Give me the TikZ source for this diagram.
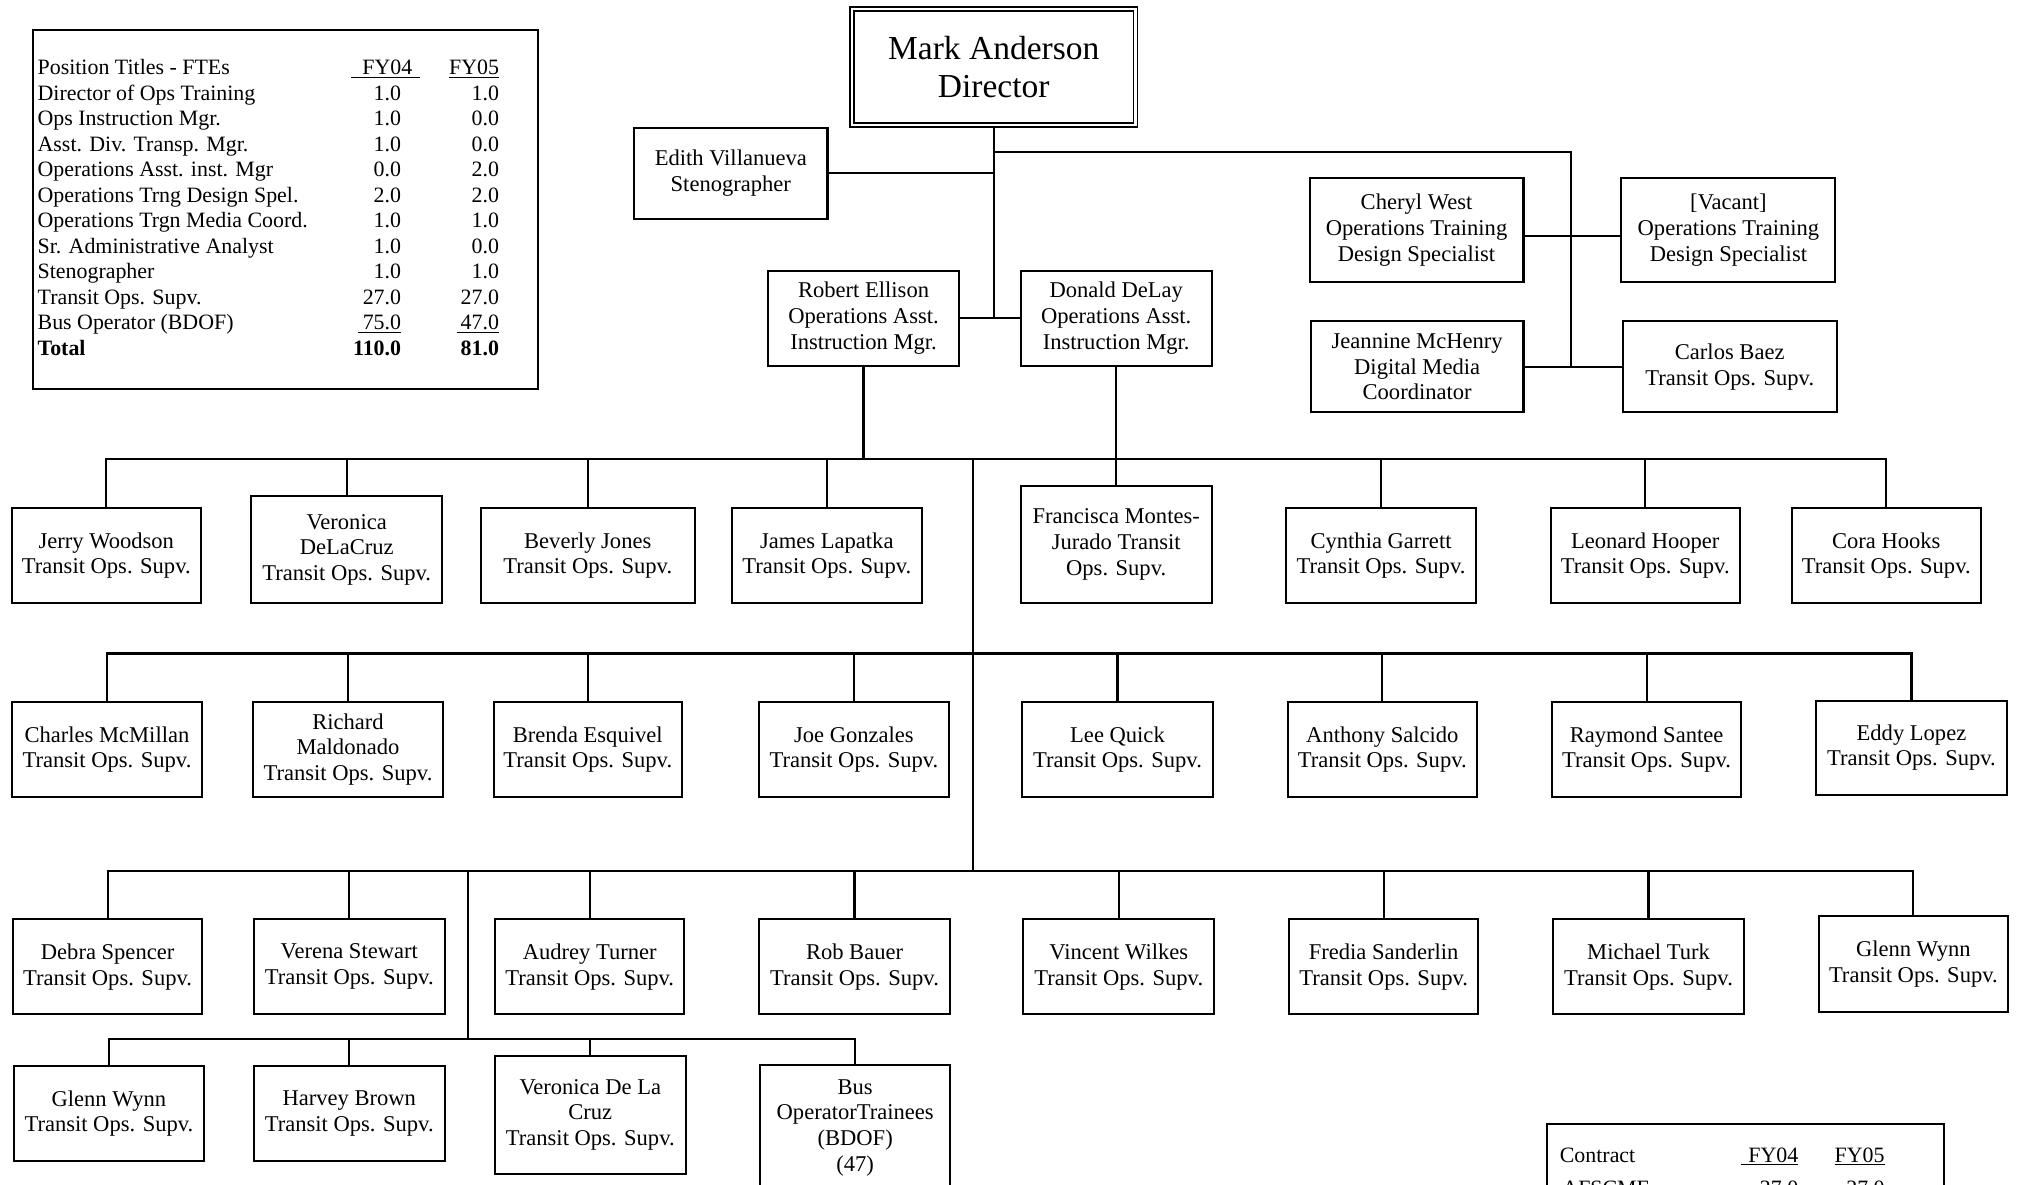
\documentclass[tikz,border=0pt]{standalone}
\usepackage{fontspec}
\setmainfont{Liberation Serif}
\usepackage{array}
\begin{document}
\begin{tikzpicture}[x=1pt,y=-1pt,
  box/.style={draw, line width=1.6pt, align=center, inner sep=0pt, font=\fontsize{17.5}{20}\selectfont},
  conn/.style={line width=1.7pt},
  txt/.style={inner sep=0pt, font=\fontsize{17}{19.8}\selectfont}]
\useasboundingbox (0,0) rectangle (1568,919);
\fill[white] (0,0) rectangle (1568,919);

% ---------- FTE table ----------
\node[draw, line width=1.6pt, minimum width=392, minimum height=278, inner sep=0pt] (fte) at (221.5,162.5) {};
\node[txt, anchor=base west] (ftetab) at (29,58) {\begin{tabular}[t]{@{}p{232pt}@{}>{\raggedleft\arraybackslash}p{50pt}@{}>{\raggedleft\arraybackslash}p{76pt}@{}}
Position Titles - FTEs & \multicolumn{1}{@{}l@{}}{\hspace{11pt}\rlap{\underline{\hspace{9pt}FY04\hspace{6pt}}}} & \underline{FY05}\\
Director of Ops Training & 1.0 & 1.0\\
Ops Instruction Mgr. & 1.0 & 0.0\\
Asst. Div. Transp. Mgr. & 1.0 & 0.0\\
Operations Asst. inst. Mgr & 0.0 & 2.0\\
Operations Trng Design Spel. & 2.0 & 2.0\\
Operations Trgn Media Coord. & 1.0 & 1.0\\
Sr. Administrative Analyst & 1.0 & 0.0\\
Stenographer & 1.0 & 1.0\\
Transit Ops. Supv. & 27.0 & 27.0\\
Bus Operator (BDOF) & \underline{\hspace{4pt}75.0} & \underline{\hspace{3pt}47.0}\\
\textbf{Total} & \textbf{110.0} & \textbf{81.0}
\end{tabular}};

% ---------- Contract table (cut off at bottom, as in the reference) ----------
\node[draw, line width=1.6pt, minimum width=308, minimum height=90, inner sep=0pt] (contract) at (1354,917) {};
\node[txt, anchor=base west] (ctab) at (1210,902) {\begin{tabular}[t]{@{}p{135pt}@{}>{\raggedleft\arraybackslash}p{50pt}@{}>{\raggedleft\arraybackslash}p{67pt}@{}}
Contract & \underline{\hspace{6pt}FY04} & \underline{FY05}\\[6pt]
\hspace{2pt}AFSCME & 27.0 & 27.0
\end{tabular}};

% ---------- top ----------
\node[box, double, double distance=1.8pt, line width=1.2pt, minimum width=220, minimum height=90, font=\fontsize{26}{30}\selectfont] (dir) at (771,52) {Mark Anderson\\Director};
\node[box, minimum width=150, minimum height=71] (edith) at (567,134.5) {Edith Villanueva\\Stenographer};
\node[box, minimum width=148, minimum height=74] (robert) at (670,247) {Robert Ellison\\Operations Asst.\\Instruction Mgr.};
\node[box, minimum width=148, minimum height=74] (donald) at (866,247) {Donald DeLay\\Operations Asst.\\Instruction Mgr.};
\node[box, minimum width=166, minimum height=81] (cheryl) at (1099,178.5) {Cheryl West\\Operations Training\\Design Specialist};
\node[box, minimum width=166, minimum height=81] (vacant) at (1341,178.5) {[Vacant]\\Operations Training\\Design Specialist};
\node[box, minimum width=165, minimum height=71] (jeannine) at (1099.5,284.5) {Jeannine McHenry\\Digital Media\\Coordinator};
\node[box, minimum width=166, minimum height=71] (carlos) at (1342,284.5) {Carlos Baez\\Transit Ops. Supv.};

% ---------- row 1 ----------
\node[box, minimum width=147, minimum height=74] (jerry) at (82.5,431) {Jerry Woodson\\Transit Ops. Supv.};
\node[box, minimum width=148, minimum height=83] (veron1) at (269,426.5) {Veronica\\DeLaCruz\\Transit Ops. Supv.};
\node[box, minimum width=166, minimum height=74] (beverly) at (456,431) {Beverly Jones\\Transit Ops. Supv.};
\node[box, minimum width=147, minimum height=74] (james) at (641.5,431) {James Lapatka\\Transit Ops. Supv.};
\node[box, minimum width=148, minimum height=91] (fran) at (866,422.5) {Francisca Montes-\\Jurado Transit\\Ops. Supv.};
\node[box, minimum width=147, minimum height=74] (cynthia) at (1071.5,431) {Cynthia Garrett\\Transit Ops. Supv.};
\node[box, minimum width=147, minimum height=74] (leonard) at (1276.5,431) {Leonard Hooper\\Transit Ops. Supv.};
\node[box, minimum width=147, minimum height=74] (cora) at (1463.5,431) {Cora Hooks\\Transit Ops. Supv.};

% ---------- row 2 ----------
\node[box, minimum width=148, minimum height=73] (charles) at (83,581.5) {Charles McMillan\\Transit Ops. Supv.};
\node[box, minimum width=148, minimum height=73] (richard) at (270,581.5) {Richard\\Maldonado\\Transit Ops. Supv.};
\node[box, minimum width=146, minimum height=73] (brenda) at (456,581.5) {Brenda Esquivel\\Transit Ops. Supv.};
\node[box, minimum width=147, minimum height=73] (joe) at (662.5,581.5) {Joe Gonzales\\Transit Ops. Supv.};
\node[box, minimum width=148, minimum height=73] (lee) at (867,581.5) {Lee Quick\\Transit Ops. Supv.};
\node[box, minimum width=147, minimum height=73] (anthony) at (1072.5,581.5) {Anthony Salcido\\Transit Ops. Supv.};
\node[box, minimum width=147, minimum height=73] (raymond) at (1277.5,581.5) {Raymond Santee\\Transit Ops. Supv.};
\node[box, minimum width=148, minimum height=73] (eddy) at (1483,580) {Eddy Lopez\\Transit Ops. Supv.};

% ---------- row 3 ----------
\node[box, minimum width=147, minimum height=74] (debra) at (83.5,750) {Debra Spencer\\Transit Ops. Supv.};
\node[box, minimum width=148, minimum height=74] (verena) at (271,750) {Verena Stewart\\Transit Ops. Supv.};
\node[box, minimum width=147, minimum height=74] (audrey) at (457.5,750) {Audrey Turner\\Transit Ops. Supv.};
\node[box, minimum width=148, minimum height=74] (rob) at (663,750) {Rob Bauer\\Transit Ops. Supv.};
\node[box, minimum width=148, minimum height=74] (vincent) at (868,750) {Vincent Wilkes\\Transit Ops. Supv.};
\node[box, minimum width=147, minimum height=74] (fredia) at (1073.5,750) {Fredia Sanderlin\\Transit Ops. Supv.};
\node[box, minimum width=148, minimum height=74] (michael) at (1279,750) {Michael Turk\\Transit Ops. Supv.};
\node[box, minimum width=147, minimum height=74] (glenna) at (1484.5,748) {Glenn Wynn\\Transit Ops. Supv.};

% ---------- row 4 ----------
\node[box, minimum width=147, minimum height=74] (glennb) at (84.5,864) {Glenn Wynn\\Transit Ops. Supv.};
\node[box, minimum width=148, minimum height=74] (harvey) at (271,864) {Harvey Brown\\Transit Ops. Supv.};
\node[box, minimum width=148, minimum height=92] (veron2) at (458,865) {Veronica De La\\Cruz\\Transit Ops. Supv.};
\node[box, minimum width=147, minimum height=98] (busop) at (663.5,875) {Bus\\OperatorTrainees\\(BDOF)\\(47)};

% ---------- connectors: top ----------
\coordinate (rj) at (1219,118);
\draw[conn] (dir.south) -- (dir.south |- robert.east);
\draw[conn] (edith.east) -- (edith.east -| dir.south);
\draw[conn] (robert.east) -- (donald.west);
\draw[conn] (dir.south |- rj) -- (rj) -- (rj |- jeannine.east);
\draw[conn] ([yshift=-4.5pt]cheryl.east) -- ([yshift=-4.5pt]vacant.west);
\draw[conn] (jeannine.east) -- (carlos.west);

% ---------- connectors: rows ----------
\coordinate (b1) at (755,356);
\coordinate (b2) at (755,507);
\coordinate (b3) at (755,676);
\coordinate (b4t) at (363,676);
\coordinate (b4) at (363,806);

\draw[conn] (robert.south) -- (robert.south |- b1);
\draw[conn] (donald.south) -- (fran.north);
\draw[conn] (jerry.north) -- (jerry.north |- b1) -- (cora.north |- b1) -- (cora.north);
\foreach \n in {veron1,beverly,james,cynthia,leonard}
  \draw[conn] (\n.north) -- (\n.north |- b1);
\draw[conn] (b1) -- (b3);

\draw[conn] (charles.north) -- (charles.north |- b2) -- (eddy.north |- b2) -- (eddy.north);
\foreach \n in {richard,brenda,joe,lee,anthony,raymond}
  \draw[conn] (\n.north) -- (\n.north |- b2);

\draw[conn] (debra.north) -- (debra.north |- b3) -- (glenna.north |- b3) -- (glenna.north);
\foreach \n in {verena,audrey,rob,vincent,fredia,michael}
  \draw[conn] (\n.north) -- (\n.north |- b3);

\draw[conn] (b4t) -- (b4);
\draw[conn] (glennb.north) -- (glennb.north |- b4) -- (busop.north |- b4) -- (busop.north);
\foreach \n in {harvey,veron2}
  \draw[conn] (\n.north) -- (\n.north |- b4);
\end{tikzpicture}
\end{document}
